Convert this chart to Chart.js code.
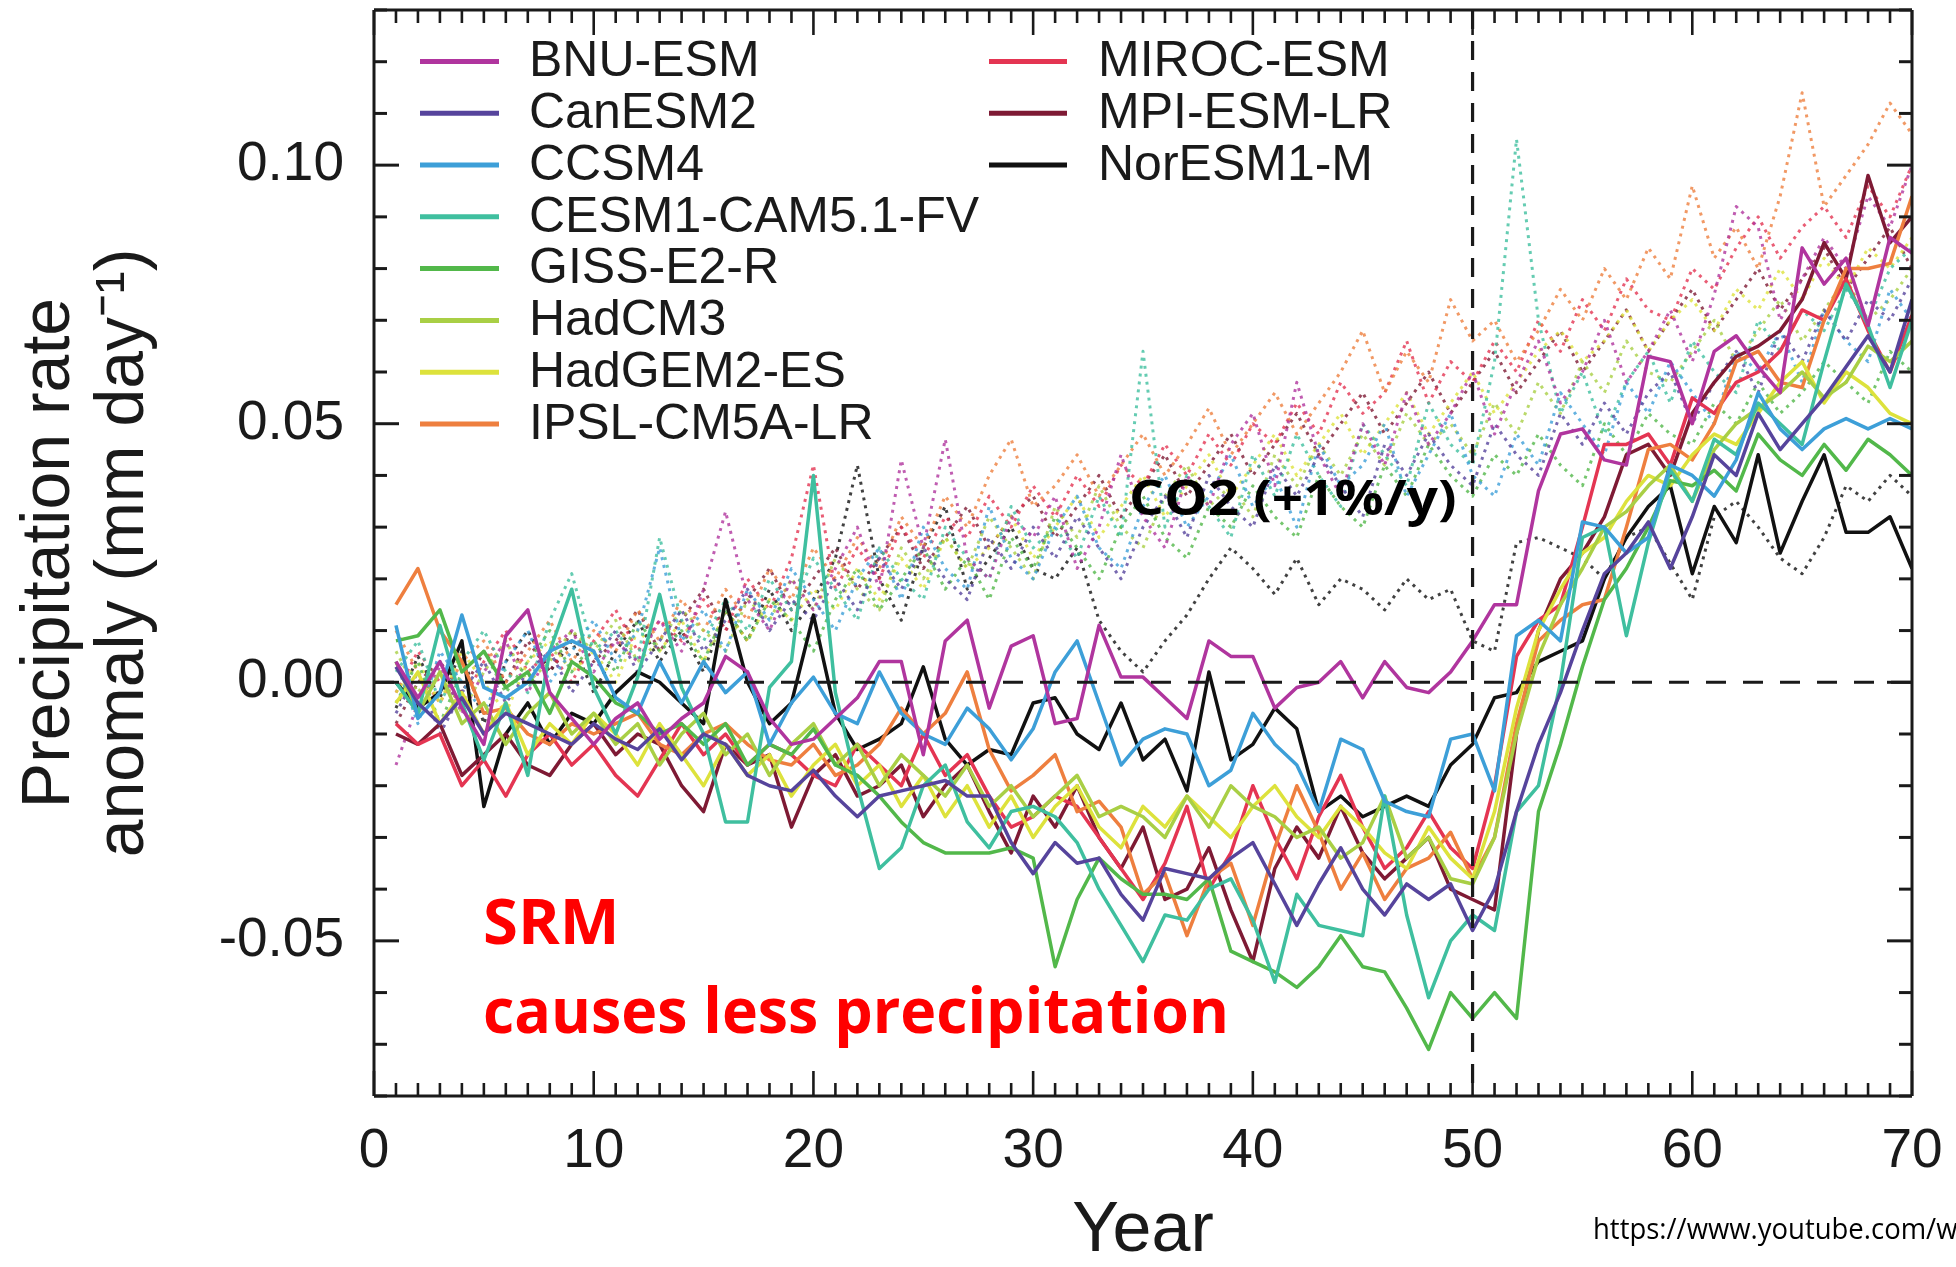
<!DOCTYPE html>
<html>
<head>
<meta charset="utf-8">
<script src="https://cdn.jsdelivr.net/npm/chart.js@4.4.1/dist/chart.umd.min.js"></script>
<style>
    html, body { margin: 0; padding: 0; background: #fff; width: 1956px; height: 1267px; overflow: hidden; }
    #wrap { position: absolute; left: 0; top: 0; width: 1956px; height: 1267px; }
    .note { position: absolute; white-space: nowrap; transform-origin: 0 0; font-family: 'Open Sans', sans-serif; font-weight: 700; line-height: 1; }
</style>
</head>
<body>
<div id="wrap"><canvas id="precipChart" width="1956" height="1267"></canvas></div>
<div class="note" id="noteCo2" data-w="327" style="left:1129px; top:472px; font-size:49px; color:#000;">CO2 (+1%/y)</div>
<div class="note" id="noteSrm" data-w="137" style="left:483px; top:889px; font-size:62px; color:#ff0000;">SRM</div>
<div class="note" id="noteLess" data-w="746" style="left:483px; top:978px; font-size:62px; color:#ff0000;">causes less precipitation</div>
<div class="note" id="noteSrc" data-w="380" style="left:1593px; top:1213px; font-size:30px; font-weight:400; color:#000;">https://www.youtube.com/wa</div>

<script>
// ==================== DATOS ====================
const years = Array.from({ length: 70 }, (_, i) => i + 1);

const models = ['BNU-ESM', 'CanESM2', 'CCSM4', 'CESM1-CAM5.1-FV', 'GISS-E2-R', 'HadCM3',
    'HadGEM2-ES', 'IPSL-CM5A-LR', 'MIROC-ESM', 'MPI-ESM-LR', 'NorESM1-M'];
const colors = ['#b0359e', '#56449c', '#3d9fd8', '#3fbf9f', '#52b84a', '#a9cf45',
    '#dde23c', '#ee7f3f', '#e43552', '#7e1a34', '#111111'];

const xTickLabels = [0, 10, 20, 30, 40, 50, 60, 70];
const yTickLabels = [-0.05, 0.00, 0.05, 0.10];

// solid lines: SRM experiment (mm/day anomaly, years 1-70)
const bnuSrm = [
    0.004, -0.003, 0.004, -0.005, -0.012, 0.009, 0.014, -0.002, -0.007, -0.012,
    -0.007, -0.004, -0.011, -0.007, -0.004, 0.005, 0.002, -0.007, -0.012, -0.011,
    -0.007, -0.003, 0.004, 0.004, -0.014, 0.008, 0.012, -0.005, 0.007, 0.009,
    -0.008, -0.007, 0.011, 0.001, 0.001, -0.003, -0.007, 0.008, 0.005, 0.005,
    -0.005, -0.001, 0.000, 0.004, -0.003, 0.004, -0.001, -0.002, 0.002, 0.008,
    0.015, 0.015, 0.037, 0.048, 0.049, 0.043, 0.042, 0.063, 0.062, 0.050,
    0.064, 0.067, 0.061, 0.056, 0.084, 0.077, 0.082, 0.069, 0.086, 0.083];
const canSrm = [
    0.003, -0.004, -0.008, -0.003, -0.010, -0.006, -0.008, -0.010, -0.012, -0.008,
    -0.011, -0.013, -0.009, -0.015, -0.010, -0.012, -0.018, -0.020, -0.021, -0.017,
    -0.022, -0.026, -0.022, -0.021, -0.020, -0.019, -0.022, -0.022, -0.031, -0.037,
    -0.031, -0.035, -0.034, -0.041, -0.046, -0.036, -0.037, -0.038, -0.034, -0.031,
    -0.039, -0.047, -0.039, -0.032, -0.040, -0.045, -0.039, -0.042, -0.039, -0.048,
    -0.040, -0.025, -0.012, -0.002, 0.010, 0.021, 0.025, 0.031, 0.022, 0.032,
    0.044, 0.040, 0.052, 0.045, 0.050, 0.055, 0.061, 0.067, 0.060, 0.074];
const ccsmSrm = [
    0.011, -0.007, -0.002, 0.013, -0.001, -0.003, 0.000, 0.006, 0.008, 0.006,
    -0.003, -0.006, 0.004, -0.004, 0.004, -0.002, 0.002, -0.012, -0.004, 0.001,
    -0.006, -0.008, 0.002, -0.006, -0.010, -0.012, -0.005, -0.009, -0.015, -0.009,
    0.002, 0.008, -0.004, -0.016, -0.011, -0.009, -0.010, -0.020, -0.017, -0.006,
    -0.012, -0.016, -0.025, -0.011, -0.013, -0.023, -0.025, -0.026, -0.011, -0.010,
    -0.021, 0.009, 0.012, 0.008, 0.031, 0.030, 0.025, 0.028, 0.042, 0.040,
    0.036, 0.043, 0.056, 0.049, 0.045, 0.049, 0.051, 0.049, 0.051, 0.049];
const cesmSrm = [
    0.000, -0.006, 0.011, -0.004, -0.015, -0.004, -0.018, 0.006, 0.018, -0.001,
    -0.010, 0.001, 0.017, -0.001, -0.010, -0.027, -0.027, -0.001, 0.004, 0.040,
    -0.002, -0.020, -0.036, -0.032, -0.020, -0.016, -0.027, -0.032, -0.025, -0.024,
    -0.026, -0.031, -0.040, -0.047, -0.054, -0.045, -0.046, -0.040, -0.038, -0.046,
    -0.058, -0.041, -0.047, -0.048, -0.049, -0.022, -0.045, -0.061, -0.050, -0.045,
    -0.048, -0.025, -0.020, 0.000, 0.028, 0.030, 0.009, 0.027, 0.041, 0.035,
    0.047, 0.044, 0.054, 0.050, 0.046, 0.062, 0.077, 0.069, 0.057, 0.070];
const gissSrm = [
    0.008, 0.009, 0.014, 0.002, 0.006, -0.001, 0.002, -0.006, 0.004, 0.001,
    -0.004, -0.006, -0.010, -0.008, -0.012, -0.008, -0.016, -0.012, -0.014, -0.009,
    -0.016, -0.018, -0.022, -0.027, -0.031, -0.033, -0.033, -0.033, -0.032, -0.034,
    -0.055, -0.042, -0.034, -0.038, -0.041, -0.041, -0.042, -0.038, -0.052, -0.054,
    -0.056, -0.059, -0.055, -0.049, -0.055, -0.056, -0.063, -0.071, -0.060, -0.065,
    -0.060, -0.065, -0.025, -0.012, 0.003, 0.016, 0.022, 0.030, 0.039, 0.038,
    0.041, 0.037, 0.048, 0.043, 0.040, 0.046, 0.041, 0.047, 0.044, 0.040];
const hadcmSrm = [
    0.004, -0.006, 0.002, -0.008, -0.004, -0.012, -0.006, -0.002, -0.010, -0.006,
    -0.012, -0.008, -0.016, -0.010, -0.006, -0.014, -0.010, -0.018, -0.012, -0.008,
    -0.016, -0.012, -0.020, -0.014, -0.018, -0.022, -0.016, -0.024, -0.020, -0.026,
    -0.022, -0.018, -0.026, -0.024, -0.026, -0.030, -0.022, -0.028, -0.020, -0.024,
    -0.026, -0.030, -0.028, -0.034, -0.031, -0.022, -0.034, -0.030, -0.038, -0.039,
    -0.030, -0.010, 0.005, 0.015, 0.022, 0.030, 0.033, 0.038, 0.042, 0.035,
    0.045, 0.050, 0.053, 0.056, 0.060, 0.055, 0.058, 0.065, 0.062, 0.066];
const hadgemSrm = [
    -0.004, 0.002, -0.008, -0.002, -0.010, -0.004, -0.014, -0.008, -0.012, -0.006,
    -0.010, -0.016, -0.008, -0.014, -0.020, -0.012, -0.018, -0.014, -0.022, -0.016,
    -0.012, -0.020, -0.016, -0.024, -0.018, -0.026, -0.020, -0.028, -0.022, -0.030,
    -0.024, -0.020, -0.028, -0.032, -0.024, -0.028, -0.022, -0.026, -0.030, -0.024,
    -0.020, -0.026, -0.030, -0.024, -0.028, -0.033, -0.036, -0.028, -0.034, -0.038,
    -0.025, -0.005, 0.010, 0.018, 0.025, 0.028, 0.035, 0.040, 0.038, 0.044,
    0.048, 0.046, 0.052, 0.058, 0.062, 0.054, 0.060, 0.057, 0.052, 0.050];
const ipslSrm = [
    0.015, 0.022, 0.010, 0.004, -0.006, -0.005, -0.010, -0.012, -0.008, -0.010,
    -0.008, -0.006, -0.012, -0.014, -0.010, -0.008, -0.012, -0.015, -0.016, -0.012,
    -0.018, -0.016, -0.012, -0.005, -0.010, -0.006, 0.002, -0.013, -0.021, -0.018,
    -0.014, -0.025, -0.023, -0.028, -0.041, -0.037, -0.049, -0.038, -0.035, -0.047,
    -0.032, -0.020, -0.029, -0.040, -0.033, -0.042, -0.036, -0.034, -0.029, -0.038,
    -0.030, -0.008, 0.008, 0.012, 0.015, 0.016, 0.030, 0.045, 0.046, 0.043,
    0.050, 0.062, 0.064, 0.058, 0.057, 0.070, 0.080, 0.080, 0.081, 0.094];
const mirocSrm = [
    -0.008, -0.012, -0.010, -0.020, -0.015, -0.022, -0.014, -0.010, -0.016, -0.012,
    -0.018, -0.022, -0.015, -0.008, -0.014, -0.010, -0.016, -0.012, -0.014, -0.018,
    -0.020, -0.012, -0.016, -0.020, -0.010, -0.018, -0.014, -0.022, -0.028, -0.026,
    -0.022, -0.024, -0.030, -0.036, -0.042, -0.035, -0.024, -0.040, -0.033, -0.020,
    -0.030, -0.038, -0.026, -0.018, -0.028, -0.036, -0.032, -0.025, -0.032, -0.036,
    -0.020, 0.005, 0.012, 0.015, 0.030, 0.046, 0.046, 0.048, 0.042, 0.055,
    0.052, 0.058, 0.060, 0.064, 0.072, 0.070, 0.078, 0.068, 0.060, 0.071];
const mpiSrm = [
    -0.010, -0.012, -0.008, -0.018, -0.014, -0.010, -0.016, -0.018, -0.012, -0.008,
    -0.014, -0.010, -0.012, -0.020, -0.025, -0.012, -0.016, -0.014, -0.028, -0.018,
    -0.014, -0.022, -0.020, -0.016, -0.026, -0.020, -0.016, -0.025, -0.033, -0.022,
    -0.028, -0.020, -0.030, -0.036, -0.028, -0.042, -0.040, -0.032, -0.044, -0.054,
    -0.036, -0.028, -0.034, -0.024, -0.033, -0.038, -0.034, -0.030, -0.040, -0.042,
    -0.044, -0.010, 0.010, 0.020, 0.025, 0.032, 0.044, 0.046, 0.040, 0.052,
    0.058, 0.063, 0.065, 0.068, 0.074, 0.085, 0.078, 0.098, 0.085, 0.090];
const norSrm = [
    0.000, -0.005, -0.002, 0.008, -0.024, -0.010, -0.004, -0.012, -0.006, -0.008,
    -0.002, 0.002, 0.000, -0.004, -0.008, 0.016, 0.000, -0.008, -0.004, 0.013,
    -0.006, -0.013, -0.011, -0.008, 0.003, -0.011, -0.016, -0.013, -0.014, -0.004,
    -0.003, -0.010, -0.013, -0.004, -0.015, -0.011, -0.021, 0.002, -0.015, -0.012,
    -0.005, -0.009, -0.025, -0.022, -0.026, -0.024, -0.022, -0.024, -0.016, -0.012,
    -0.003, -0.002, 0.004, 0.006, 0.008, 0.020, 0.028, 0.034, 0.038, 0.021,
    0.034, 0.027, 0.044, 0.025, 0.035, 0.044, 0.029, 0.029, 0.032, 0.022];

// dotted lines: CO2 +1%/y only
const bnuCo2 = [
    -0.016, -0.004, 0.003, -0.006, 0.002, 0.008, -0.002, 0.006, 0.010, 0.002,
    0.008, 0.004, 0.012, 0.006, 0.018, 0.033, 0.016, 0.010, 0.020, 0.014,
    0.022, 0.030, 0.018, 0.043, 0.026, 0.047, 0.024, 0.020, 0.032, 0.028,
    0.036, 0.022, 0.030, 0.044, 0.032, 0.026, 0.040, 0.034, 0.046, 0.052,
    0.038, 0.058, 0.044, 0.036, 0.050, 0.042, 0.056, 0.046, 0.052, 0.060,
    0.048, 0.058, 0.066, 0.054, 0.060, 0.070, 0.058, 0.064, 0.072, 0.062,
    0.075, 0.092, 0.088, 0.070, 0.078, 0.086, 0.080, 0.094, 0.088, 0.100];
const canCo2 = [
    -0.006, 0.002, -0.010, -0.002, 0.004, -0.004, 0.002, 0.006, -0.002, 0.004,
    0.010, 0.002, 0.008, 0.014, 0.006, 0.012, 0.018, 0.010, 0.016, 0.012,
    0.020, 0.014, 0.024, 0.018, 0.026, 0.020, 0.016, 0.028, 0.022, 0.030,
    0.024, 0.032, 0.026, 0.020, 0.030, 0.036, 0.028, 0.040, 0.034, 0.030,
    0.042, 0.036, 0.044, 0.038, 0.032, 0.046, 0.040, 0.048, 0.042, 0.038,
    0.050, 0.044, 0.040, 0.052, 0.046, 0.054, 0.048, 0.056, 0.060, 0.050,
    0.058, 0.064, 0.056, 0.068, 0.062, 0.072, 0.066, 0.074, 0.070, 0.078];
const ccsmCo2 = [
    0.004, -0.008, 0.006, 0.000, -0.006, 0.004, 0.010, 0.000, 0.006, 0.012,
    0.004, 0.010, 0.026, 0.008, 0.014, 0.006, 0.018, 0.012, 0.022, 0.016,
    0.010, 0.020, 0.026, 0.016, 0.030, 0.022, 0.018, 0.034, 0.024, 0.020,
    0.030, 0.036, 0.026, 0.022, 0.034, 0.040, 0.030, 0.036, 0.044, 0.034,
    0.040, 0.030, 0.046, 0.038, 0.042, 0.050, 0.036, 0.044, 0.052, 0.040,
    0.036, 0.048, 0.042, 0.056, 0.050, 0.044, 0.058, 0.052, 0.062, 0.056,
    0.050, 0.064, 0.060, 0.068, 0.058, 0.072, 0.066, 0.062, 0.076, 0.070];
const cesmCo2 = [
    0.002, 0.008, -0.004, 0.004, 0.010, 0.002, -0.002, 0.012, 0.021, 0.006,
    0.010, 0.004, 0.028, 0.012, 0.008, 0.016, 0.010, 0.020, 0.014, 0.024,
    0.018, 0.012, 0.026, 0.020, 0.016, 0.030, 0.024, 0.020, 0.034, 0.026,
    0.030, 0.024, 0.036, 0.028, 0.064, 0.030, 0.040, 0.034, 0.028, 0.044,
    0.036, 0.048, 0.040, 0.034, 0.050, 0.044, 0.038, 0.054, 0.046, 0.042,
    0.062, 0.105, 0.070, 0.052, 0.060, 0.048, 0.058, 0.064, 0.054, 0.066,
    0.060, 0.056, 0.070, 0.064, 0.072, 0.068, 0.076, 0.070, 0.080, 0.084];
const gissCo2 = [
    -0.004, 0.004, -0.008, 0.002, 0.006, -0.002, 0.004, 0.010, 0.002, 0.008,
    0.002, 0.012, 0.006, 0.010, 0.004, 0.014, 0.008, 0.016, 0.012, 0.006,
    0.016, 0.022, 0.014, 0.020, 0.026, 0.018, 0.024, 0.016, 0.028, 0.022,
    0.032, 0.026, 0.020, 0.030, 0.036, 0.028, 0.024, 0.034, 0.030, 0.038,
    0.032, 0.028, 0.040, 0.034, 0.030, 0.042, 0.036, 0.046, 0.040, 0.036,
    0.044, 0.040, 0.048, 0.042, 0.038, 0.050, 0.044, 0.052, 0.048, 0.046,
    0.054, 0.050, 0.058, 0.052, 0.056, 0.062, 0.058, 0.054, 0.064, 0.060];
const hadcmCo2 = [
    0.006, -0.002, 0.004, -0.006, 0.002, 0.008, 0.000, 0.004, 0.010, 0.006,
    0.012, 0.004, 0.008, 0.014, 0.010, 0.006, 0.016, 0.012, 0.020, 0.014,
    0.024, 0.018, 0.014, 0.026, 0.020, 0.028, 0.022, 0.032, 0.026, 0.020,
    0.034, 0.028, 0.038, 0.030, 0.026, 0.036, 0.042, 0.034, 0.038, 0.032,
    0.044, 0.038, 0.046, 0.040, 0.048, 0.042, 0.052, 0.046, 0.050, 0.044,
    0.054, 0.048, 0.058, 0.052, 0.062, 0.056, 0.066, 0.060, 0.058, 0.064,
    0.070, 0.062, 0.068, 0.074, 0.066, 0.072, 0.078, 0.070, 0.074, 0.080];
const hadgemCo2 = [
    -0.002, 0.004, -0.004, 0.006, 0.000, -0.006, 0.004, 0.008, 0.002, 0.006,
    0.000, 0.010, 0.006, 0.012, 0.004, 0.014, 0.008, 0.016, 0.012, 0.018,
    0.014, 0.022, 0.016, 0.024, 0.018, 0.028, 0.022, 0.026, 0.032, 0.024,
    0.030, 0.036, 0.028, 0.034, 0.040, 0.032, 0.038, 0.044, 0.036, 0.042,
    0.048, 0.040, 0.046, 0.052, 0.044, 0.050, 0.056, 0.048, 0.054, 0.060,
    0.052, 0.058, 0.064, 0.068, 0.062, 0.066, 0.072, 0.064, 0.070, 0.074,
    0.068, 0.076, 0.072, 0.080, 0.074, 0.082, 0.076, 0.084, 0.080, 0.086];
const ipslCo2 = [
    0.010, 0.002, -0.004, 0.004, 0.008, 0.000, 0.006, 0.012, 0.004, 0.010,
    0.006, 0.014, 0.008, 0.016, 0.010, 0.018, 0.012, 0.022, 0.016, 0.026,
    0.020, 0.028, 0.022, 0.032, 0.026, 0.036, 0.030, 0.040, 0.047, 0.034,
    0.038, 0.044, 0.036, 0.042, 0.048, 0.040, 0.046, 0.053, 0.044, 0.050,
    0.056, 0.048, 0.054, 0.060, 0.068, 0.056, 0.064, 0.058, 0.074, 0.066,
    0.070, 0.062, 0.068, 0.076, 0.070, 0.080, 0.074, 0.084, 0.078, 0.096,
    0.082, 0.088, 0.080, 0.094, 0.114, 0.092, 0.098, 0.104, 0.112, 0.106];
const mirocCo2 = [
    -0.002, 0.006, 0.000, -0.004, 0.004, 0.010, 0.002, 0.006, 0.000, 0.008,
    0.014, 0.006, 0.012, 0.008, 0.016, 0.010, 0.020, 0.014, 0.024, 0.042,
    0.018, 0.026, 0.020, 0.030, 0.024, 0.032, 0.028, 0.036, 0.030, 0.038,
    0.032, 0.040, 0.034, 0.042, 0.038, 0.046, 0.040, 0.048, 0.042, 0.050,
    0.046, 0.054, 0.048, 0.058, 0.052, 0.056, 0.066, 0.054, 0.062, 0.058,
    0.066, 0.060, 0.070, 0.064, 0.074, 0.068, 0.078, 0.072, 0.070, 0.080,
    0.076, 0.084, 0.090, 0.082, 0.088, 0.092, 0.086, 0.096, 0.090, 0.100];
const mpiCo2 = [
    -0.008, 0.000, 0.004, -0.002, 0.006, 0.000, 0.008, 0.002, 0.010, 0.004,
    0.008, 0.014, 0.006, 0.012, 0.018, 0.010, 0.016, 0.022, 0.014, 0.020,
    0.026, 0.018, 0.024, 0.030, 0.022, 0.028, 0.034, 0.026, 0.032, 0.036,
    0.028, 0.034, 0.040, 0.032, 0.038, 0.044, 0.036, 0.042, 0.048, 0.040,
    0.046, 0.052, 0.044, 0.050, 0.056, 0.048, 0.054, 0.060, 0.052, 0.058,
    0.064, 0.056, 0.062, 0.068, 0.060, 0.066, 0.072, 0.064, 0.070, 0.076,
    0.068, 0.074, 0.080, 0.072, 0.078, 0.084, 0.076, 0.082, 0.088, 0.080];
const norCo2 = [
    -0.005, 0.005, -0.003, 0.006, -0.008, 0.004, 0.010, 0.002, 0.008, -0.002,
    0.006, 0.012, 0.004, 0.010, 0.002, 0.014, 0.008, 0.018, 0.010, 0.016,
    0.024, 0.042, 0.020, 0.012, 0.026, 0.034, 0.018, 0.024, 0.030, 0.022,
    0.020, 0.026, 0.012, 0.006, 0.002, 0.008, 0.013, 0.020, 0.026, 0.022,
    0.017, 0.024, 0.015, 0.020, 0.018, 0.014, 0.020, 0.016, 0.018, 0.008,
    0.006, 0.027, 0.028, 0.026, 0.024, 0.020, 0.028, 0.030, 0.023, 0.016,
    0.032, 0.035, 0.030, 0.024, 0.021, 0.028, 0.038, 0.035, 0.040, 0.036];

const srmRuns = [bnuSrm, canSrm, ccsmSrm, cesmSrm, gissSrm, hadcmSrm, hadgemSrm, ipslSrm, mirocSrm, mpiSrm, norSrm];
const co2Runs = [bnuCo2, canCo2, ccsmCo2, cesmCo2, gissCo2, hadcmCo2, hadgemCo2, ipslCo2, mirocCo2, mpiCo2, norCo2];

// ==================== UTILIDADES ====================
const FONT = "'Liberation Sans', Arial, sans-serif";
const INK = '#1a1a1a';

function toPoints(values) {
    return values.map((v, i) => ({ x: years[i], y: v }));
}

function withAlpha(hex, a) {
    const n = parseInt(hex.slice(1), 16);
    return `rgba(${(n >> 16) & 255}, ${(n >> 8) & 255}, ${n & 255}, ${a})`;
}

function strokeLine(ctx, x0, y0, x1, y1) {
    ctx.beginPath();
    ctx.moveTo(x0, y0);
    ctx.lineTo(x1, y1);
    ctx.stroke();
}

// ==================== PLUGINS ====================
// frame, inward ticks on all four sides, dashed reference lines
const axisFrame = {
    id: 'axisFrame',
    afterDatasetsDraw(chart) {
        const { ctx, chartArea: a, scales: { x, y } } = chart;
        ctx.save();
        ctx.strokeStyle = INK;

        const y0 = y.getPixelForValue(0);
        ctx.lineWidth = 3;
        ctx.setLineDash([20, 17]);
        strokeLine(ctx, a.left, y0, a.right, y0);

        const x50 = x.getPixelForValue(50);
        ctx.lineWidth = 3.2;
        ctx.setLineDash([19, 12]);
        strokeLine(ctx, x50, a.top, x50, a.bottom);
        ctx.setLineDash([]);

        ctx.lineWidth = 3;
        strokeLine(ctx, a.left, a.top, a.right, a.top);
        strokeLine(ctx, a.left, a.bottom, a.right, a.bottom);
        strokeLine(ctx, a.left, a.top, a.left, a.bottom);
        strokeLine(ctx, a.right, a.top, a.right, a.bottom);

        ctx.lineWidth = 2.6;
        for (let yr = 0; yr <= 70; yr++) {
            const px = x.getPixelForValue(yr);
            const len = xTickLabels.includes(yr) ? 25 : 13;
            strokeLine(ctx, px, a.bottom, px, a.bottom - len);
            strokeLine(ctx, px, a.top, px, a.top + len);
        }
        ctx.lineWidth = 3;
        for (let k = -8; k <= 13; k++) {
            const py = y.getPixelForValue(k / 100);
            const len = k % 5 === 0 ? 25 : 13;
            strokeLine(ctx, a.left, py, a.left + len, py);
            strokeLine(ctx, a.right, py, a.right - len, py);
        }
        ctx.restore();
    }
};

// two-column legend in the top-left corner of the plot
const legendBox = {
    id: 'legendBox',
    afterDraw(chart) {
        const { ctx } = chart;
        ctx.save();
        ctx.font = `50px ${FONT}`;
        ctx.textBaseline = 'middle';
        models.forEach((name, i) => {
            const col = i < 8 ? 0 : 1;
            const row = col ? i - 8 : i;
            const yPos = 61.4 + row * 51.8;
            const [x0, x1, tx] = col ? [989, 1067, 1098] : [420, 499, 529];
            ctx.strokeStyle = colors[i];
            ctx.lineWidth = 5;
            strokeLine(ctx, x0, yPos, x1, yPos);
            ctx.fillStyle = INK;
            ctx.fillText(name, tx, yPos + 1);
        });
        ctx.restore();
    }
};

// ==================== GRÁFICO ====================
const datasets = [];
models.forEach((name, i) => {
    datasets.push({
        label: name + ' (CO2)',
        data: toPoints(co2Runs[i]),
        borderColor: withAlpha(colors[i], 0.8),
        borderWidth: 3,
        borderDash: [3, 5],
        pointRadius: 0,
        order: 2
    });
});
models.forEach((name, i) => {
    datasets.push({
        label: name,
        data: toPoints(srmRuns[i]),
        borderColor: colors[i],
        borderWidth: 3.5,
        pointRadius: 0,
        order: 1
    });
});

new Chart(document.getElementById('precipChart'), {
    type: 'line',
    data: { datasets },
    plugins: [axisFrame, legendBox],
    options: {
        responsive: false,
        animation: false,
        devicePixelRatio: 1,
        layout: { padding: { left: 0, right: 44, top: 10, bottom: 0 } },
        elements: { line: { tension: 0, borderJoinStyle: 'round' } },
        plugins: { legend: { display: false }, tooltip: { enabled: false } },
        scales: {
            x: {
                type: 'linear',
                min: 0,
                max: 70,
                afterFit(s) { s.height = 171; s.paddingLeft = 0; s.paddingRight = 0; },
                grid: { display: false },
                border: { display: false },
                ticks: {
                    stepSize: 10,
                    autoSkip: false,
                    maxRotation: 0,
                    padding: 15,
                    color: INK,
                    font: { family: FONT, size: 55 },
                    callback: v => xTickLabels.includes(v) ? String(v) : ''
                },
                title: {
                    display: true,
                    text: 'Year',
                    color: INK,
                    font: { family: FONT, size: 70, lineHeight: 1 },
                    padding: { top: 0, bottom: 0 }
                }
            },
            y: {
                type: 'linear',
                min: -0.08,
                max: 0.13,
                afterFit(s) { s.width = 374; s.paddingTop = 0; s.paddingBottom = 0; },
                grid: { display: false },
                border: { display: false },
                ticks: {
                    stepSize: 0.05,
                    padding: 22,
                    color: INK,
                    font: { family: FONT, size: 55 },
                    callback: v => {
                        const hit = yTickLabels.find(t => Math.abs(t - v) < 1e-9);
                        if (hit === undefined) return '';
                        return Math.abs(hit) < 1e-9 ? '0.00' : hit.toFixed(2);
                    }
                },
                title: {
                    display: true,
                    text: ['Precipitation rate', 'anomaly (mm day\u207B\u00B9)'],
                    color: INK,
                    font: { family: FONT, size: 68, lineHeight: 1.1 },
                    padding: { top: 12.5, bottom: 0 }
                }
            }
        }
    }
});

// squeeze the overlay notes to the widths they have in the picture
document.fonts.ready.then(() => {
    document.querySelectorAll('.note').forEach(el => {
        const target = parseFloat(el.dataset.w);
        el.style.transform = `scaleX(${target / el.offsetWidth})`;
    });
});
</script>
</body>
</html>
